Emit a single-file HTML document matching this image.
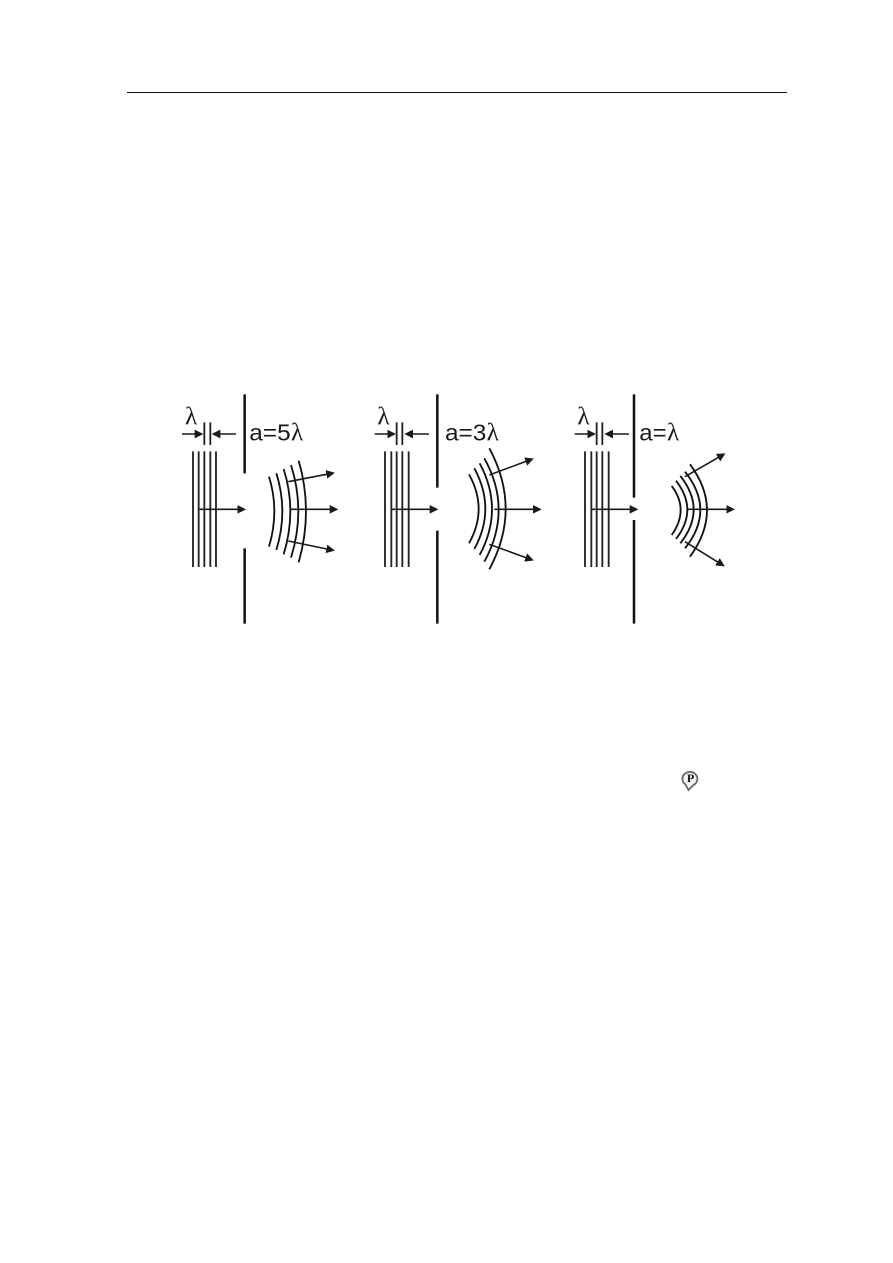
<!DOCTYPE html>
<html><head><meta charset="utf-8"><style>
html,body{margin:0;padding:0;background:#fff}
svg{display:block}
.p{stroke:#222;stroke-width:5.5;fill:none}
.s{stroke:#111;stroke-width:7.5;fill:none}
.w{stroke:#111;stroke-width:5.5;fill:none}
.a{stroke:#1a1a1a;stroke-width:4.8;fill:none;marker-end:url(#h)}
.t{font-family:"Liberation Sans",sans-serif;font-size:69px;fill:#1a1a1a}
.l{font-family:"Liberation Serif","DejaVu Serif",serif;font-size:76px;fill:#1a1a1a}
</style></head><body>
<svg width="893" height="1263" viewBox="0 0 893 1263" xmlns="http://www.w3.org/2000/svg">
<defs>
<marker id="h" markerUnits="userSpaceOnUse" markerWidth="32" markerHeight="32" refX="16" refY="16" orient="auto"><path d="M0 3L26 16L0 29Z" fill="#1a1a1a"/></marker>
</defs>
<rect width="893" height="1263" fill="#fff"/>
<rect x="127" y="92" width="660" height="1" fill="#111"/>

<!-- Panel 1 -->
<g transform="translate(170,385) scale(.3333)">
<path class="s" d="M224 28V265M224 490V716"/>
<path class="p" d="M69 199V546M86 199V546M103 199V546M121 199V546M138 199V546M103 112V180M121 112V180"/>
<path class="a" d="M36 147H90"/><path class="a" d="M198 147H135"/>
<path class="a" d="M88 373H218"/>
<text class="l" x="45" y="119">λ</text>
<text class="t" x="238" y="167" textLength="124" lengthAdjust="spacingAndGlyphs">a=5</text><text class="l" x="363" y="167">λ</text>
<path class="w" d="M297 275Q329 378 297 485"/>
<path class="w" d="M319 265Q355 378 319 495"/>
<path class="w" d="M341 252Q381 378 341 508"/>
<path class="w" d="M363 240Q407 378 363 518"/>
<path class="w" d="M386 227Q430 378 386 532"/>
<path class="a" d="M355 290L485 265"/>
<path class="a" d="M363 373H495"/>
<path class="a" d="M355 468L485 495"/>
</g>

<!-- Panel 2 -->
<g transform="translate(360,385) scale(.3333)">
<path class="s" d="M232 28V308M232 437V716"/>
<path class="p" d="M75 199V546M94 199V546M110 199V546M127 199V546M146 199V546M110 112V180M127 112V180"/>
<path class="a" d="M44 147H98"/><path class="a" d="M207 147H143"/>
<path class="a" d="M94 373H225"/>
<text class="l" x="52" y="119">λ</text>
<text class="t" x="255" y="167" textLength="124" lengthAdjust="spacingAndGlyphs">a=3</text><text class="l" x="380" y="167">λ</text>
<path class="w" d="M327 268Q385 372 327 475"/>
<path class="w" d="M343 250Q409 372 343 492"/>
<path class="w" d="M359 235Q433 372 359 510"/>
<path class="w" d="M373 220Q459 374 373 530"/>
<path class="w" d="M388 190Q486 372 388 553"/>
<path class="a" d="M388 270L512 224"/>
<path class="a" d="M403 373H535"/>
<path class="a" d="M388 478L512 523"/>
</g>

<!-- Panel 3 -->
<g transform="translate(560,385) scale(.3333)">
<path class="s" d="M222 28V338M222 405V716"/>
<path class="p" d="M75 199V546M94 199V546M110 199V546M127 199V546M146 199V546M110 112V180M127 112V180"/>
<path class="a" d="M44 147H98"/><path class="a" d="M207 147H143"/>
<path class="a" d="M94 373H225"/>
<text class="l" x="52" y="119">λ</text>
<text class="t" x="238" y="167" textLength="82" lengthAdjust="spacingAndGlyphs">a=</text><text class="l" x="321" y="167">λ</text>
<path class="w" d="M335 303Q389 374 335 450"/>
<path class="w" d="M348 287Q416 374 348 462"/>
<path class="w" d="M361 273Q441 374 361 475"/>
<path class="w" d="M375 260Q467 375 375 490"/>
<path class="w" d="M390 238Q492 375 390 515"/>
<path class="a" d="M375 275L488 210"/>
<path class="a" d="M382 373H515"/>
<path class="a" d="M375 470L486 539"/>
</g>

<!-- P icon -->
<g>
<path d="M688.500 790L685.500 784.500A7.500 7 0 1 1 693.500 785Z" fill="#f4f4f4" stroke="#666" stroke-width="1.800"/>
<text x="690.500" y="782" text-anchor="middle" font-family="Liberation Serif,serif" font-weight="bold" font-size="12" fill="#111">P</text>
</g>
</svg>
</body></html>
